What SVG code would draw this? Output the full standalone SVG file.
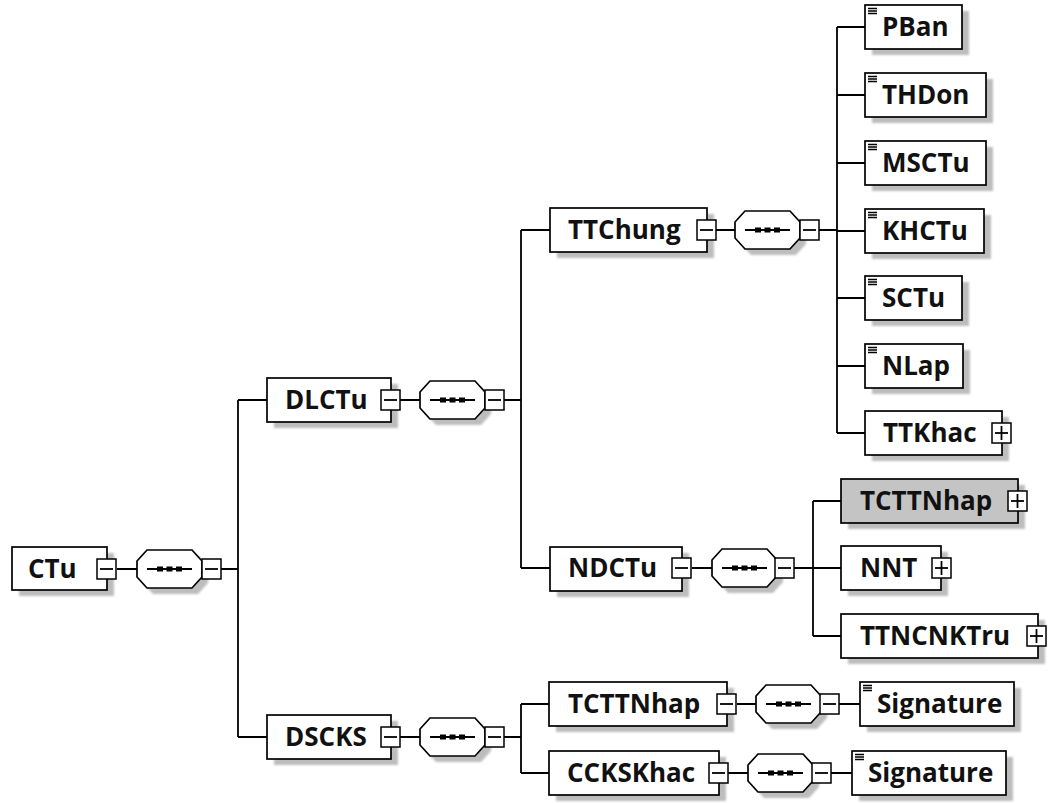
<svg xmlns="http://www.w3.org/2000/svg" xmlns:xlink="http://www.w3.org/1999/xlink" width="1051" height="803" viewBox="0 0 1051 803">
<style>
.box{fill:#fff;stroke:#000;stroke-width:1.7}
.gray{fill:#c4c4c4;stroke:#000;stroke-width:1.7}
.sh{fill:#bdbdbd;filter:url(#blur)}
.t{font-family:"Open Sans","Noto Sans","Liberation Sans",sans-serif;font-weight:bold;font-size:26px;fill:#111}
.ln{stroke:#000;stroke-width:1.8;fill:none}
.btn{fill:#fff;stroke:#000;stroke-width:1.5}
</style>
<defs>
<filter id="blur" x="-10%" y="-10%" width="120%" height="130%"><feGaussianBlur stdDeviation="1.3"/></filter>
<g id="minus"><rect class="btn" x="0" y="-10" width="19" height="20"/><line class="ln" x1="3" y1="0" x2="16" y2="0" stroke-width="1.4"/></g>
<g id="plus"><rect class="btn" x="0" y="-10" width="19" height="20"/><line class="ln" x1="3" y1="0" x2="16" y2="0" stroke-width="1.4"/><line class="ln" x1="9.5" y1="-7" x2="9.5" y2="7" stroke-width="1.4"/></g>
<g id="seq">
<polygon class="sh" points="16,-13 61,-13 71,-2 71,14 61,25 16,25 6,14 6,-2"/>
<polygon class="box" points="10,-19 55,-19 65,-8 65,8 55,19 10,19 0,8 0,-8"/>
<line class="ln" x1="10" y1="0" x2="55" y2="0" stroke-width="1.4"/>
<rect x="20" y="-2.5" width="6" height="5" fill="#000"/><rect x="29.5" y="-2.5" width="6" height="5" fill="#000"/><rect x="39" y="-2.5" width="6" height="5" fill="#000"/>
</g>
<path id="ico" d="M3,3.5h9M3,6h9M3,8.5h9" stroke="#000" stroke-width="1.3" fill="none"/>
</defs>
<rect width="1051" height="803" fill="#fff"/>

<g id="connectors">
<path class="ln" d="M117,569H137M221,569H238M238,400V737M238,400H267M238,737H267"/>
<path class="ln" d="M400,400H420M504,400H521M521,230V568M521,230H550M521,568H550"/>
<path class="ln" d="M716,230H735M819,230H837M837,27V433M837,27H865M837,95H865M837,163H865M837,231H865M837,298H865M837,366H865M837,433H865"/>
<path class="ln" d="M692,568H712M794,568H813M813,501V636M813,501H841M813,568H841M813,636H841"/>
<path class="ln" d="M400,737H420M504,737H521M521,704V773M521,704H549M521,773H549"/>
<path class="ln" d="M737,704H756M839,704H860M728,773H748M831,773H852"/>
</g>

<g id="n-CTu">
<rect class="sh" x="19" y="553" width="95" height="43"/>
<rect class="box" x="12" y="547" width="95" height="43"/>
<text class="t" x="28" y="578">CTu</text>
<use href="#minus" x="97" y="569"/>
</g>
<g id="s-CTu"><use href="#seq" x="137" y="569"/><use href="#minus" x="202" y="569"/></g>

<g id="n-DLCTu">
<rect class="sh" x="274" y="384" width="124" height="44"/>
<rect class="box" x="267" y="378" width="124" height="44"/>
<text class="t" x="285" y="409">DLCTu</text>
<use href="#minus" x="381" y="400"/>
</g>
<g id="s-DLCTu"><use href="#seq" x="420" y="400"/><use href="#minus" x="485" y="400"/></g>

<g id="n-TTChung">
<rect class="sh" x="557" y="214" width="157" height="44"/>
<rect class="box" x="550" y="208" width="157" height="44"/>
<text class="t" x="568" y="239">TTChung</text>
<use href="#minus" x="697" y="230"/>
</g>
<g id="s-TTChung"><use href="#seq" x="735" y="230"/><use href="#minus" x="800" y="230"/></g>

<g id="n-PBan">
<rect class="sh" x="872" y="11" width="97" height="44"/>
<rect class="box" x="865" y="5" width="97" height="44"/>
<use href="#ico" x="865" y="5"/>
<text class="t" x="882" y="36">PBan</text>
</g>
<g id="n-THDon">
<rect class="sh" x="872" y="79" width="121" height="44"/>
<rect class="box" x="865" y="73" width="121" height="44"/>
<use href="#ico" x="865" y="73"/>
<text class="t" x="882" y="104">THDon</text>
</g>
<g id="n-MSCTu">
<rect class="sh" x="872" y="147" width="121" height="44"/>
<rect class="box" x="865" y="141" width="121" height="44"/>
<use href="#ico" x="865" y="141"/>
<text class="t" x="882" y="172">MSCTu</text>
</g>
<g id="n-KHCTu">
<rect class="sh" x="872" y="215" width="119" height="44"/>
<rect class="box" x="865" y="209" width="119" height="44"/>
<use href="#ico" x="865" y="209"/>
<text class="t" x="882" y="240">KHCTu</text>
</g>
<g id="n-SCTu">
<rect class="sh" x="872" y="282" width="97" height="44"/>
<rect class="box" x="865" y="276" width="97" height="44"/>
<use href="#ico" x="865" y="276"/>
<text class="t" x="882" y="307">SCTu</text>
</g>
<g id="n-NLap">
<rect class="sh" x="872" y="350" width="98" height="44"/>
<rect class="box" x="865" y="344" width="98" height="44"/>
<use href="#ico" x="865" y="344"/>
<text class="t" x="882" y="375">NLap</text>
</g>
<g id="n-TTKhac">
<rect class="sh" x="872" y="417" width="137" height="44"/>
<rect class="box" x="865" y="411" width="137" height="44"/>
<text class="t" x="883" y="442">TTKhac</text>
<use href="#plus" x="992" y="433"/>
</g>

<g id="n-NDCTu">
<rect class="sh" x="557" y="553" width="132" height="44"/>
<rect class="box" x="550" y="547" width="132" height="44"/>
<text class="t" x="568" y="577">NDCTu</text>
<use href="#minus" x="672" y="568"/>
</g>
<g id="s-NDCTu"><use href="#seq" x="712" y="568"/><use href="#minus" x="775" y="568"/></g>

<g id="n-TCTTNhap1">
<rect class="sh" x="848" y="485" width="177" height="44"/>
<rect class="gray" x="841" y="479" width="177" height="44"/>
<text class="t" x="860" y="510">TCTTNhap</text>
<use href="#plus" x="1008" y="501"/>
</g>
<g id="n-NNT">
<rect class="sh" x="848" y="552" width="100" height="44"/>
<rect class="box" x="841" y="546" width="100" height="44"/>
<text class="t" x="860" y="577">NNT</text>
<use href="#plus" x="932" y="568"/>
</g>
<g id="n-TTNCNKTru">
<rect class="sh" x="848" y="620" width="197" height="44"/>
<rect class="box" x="841" y="614" width="197" height="44"/>
<text class="t" x="860" y="645">TTNCNKTru</text>
<use href="#plus" x="1027" y="636"/>
</g>

<g id="n-DSCKS">
<rect class="sh" x="274" y="721" width="124" height="44"/>
<rect class="box" x="267" y="715" width="124" height="44"/>
<text class="t" x="285" y="746">DSCKS</text>
<use href="#minus" x="381" y="737"/>
</g>
<g id="s-DSCKS"><use href="#seq" x="420" y="737"/><use href="#minus" x="485" y="737"/></g>

<g id="n-TCTTNhap2">
<rect class="sh" x="556" y="688" width="178" height="44"/>
<rect class="box" x="549" y="682" width="178" height="44"/>
<text class="t" x="568" y="713">TCTTNhap</text>
<use href="#minus" x="717" y="704"/>
</g>
<g id="s-TCTTNhap2"><use href="#seq" x="756" y="704"/><use href="#minus" x="820" y="704"/></g>
<g id="n-Signature1">
<rect class="sh" x="867" y="688" width="154" height="44"/>
<rect class="box" x="860" y="682" width="154" height="44"/>
<use href="#ico" x="860" y="682"/>
<text class="t" x="877" y="713">Signature</text>
</g>

<g id="n-CCKSKhac">
<rect class="sh" x="556" y="757" width="170" height="44"/>
<rect class="box" x="549" y="751" width="170" height="44"/>
<text class="t" x="567" y="782">CCKSKhac</text>
<use href="#minus" x="709" y="773"/>
</g>
<g id="s-CCKSKhac"><use href="#seq" x="748" y="773"/><use href="#minus" x="812" y="773"/></g>
<g id="n-Signature2">
<rect class="sh" x="859" y="757" width="154" height="44"/>
<rect class="box" x="852" y="751" width="154" height="44"/>
<use href="#ico" x="852" y="751"/>
<text class="t" x="868" y="782">Signature</text>
</g>
</svg>
